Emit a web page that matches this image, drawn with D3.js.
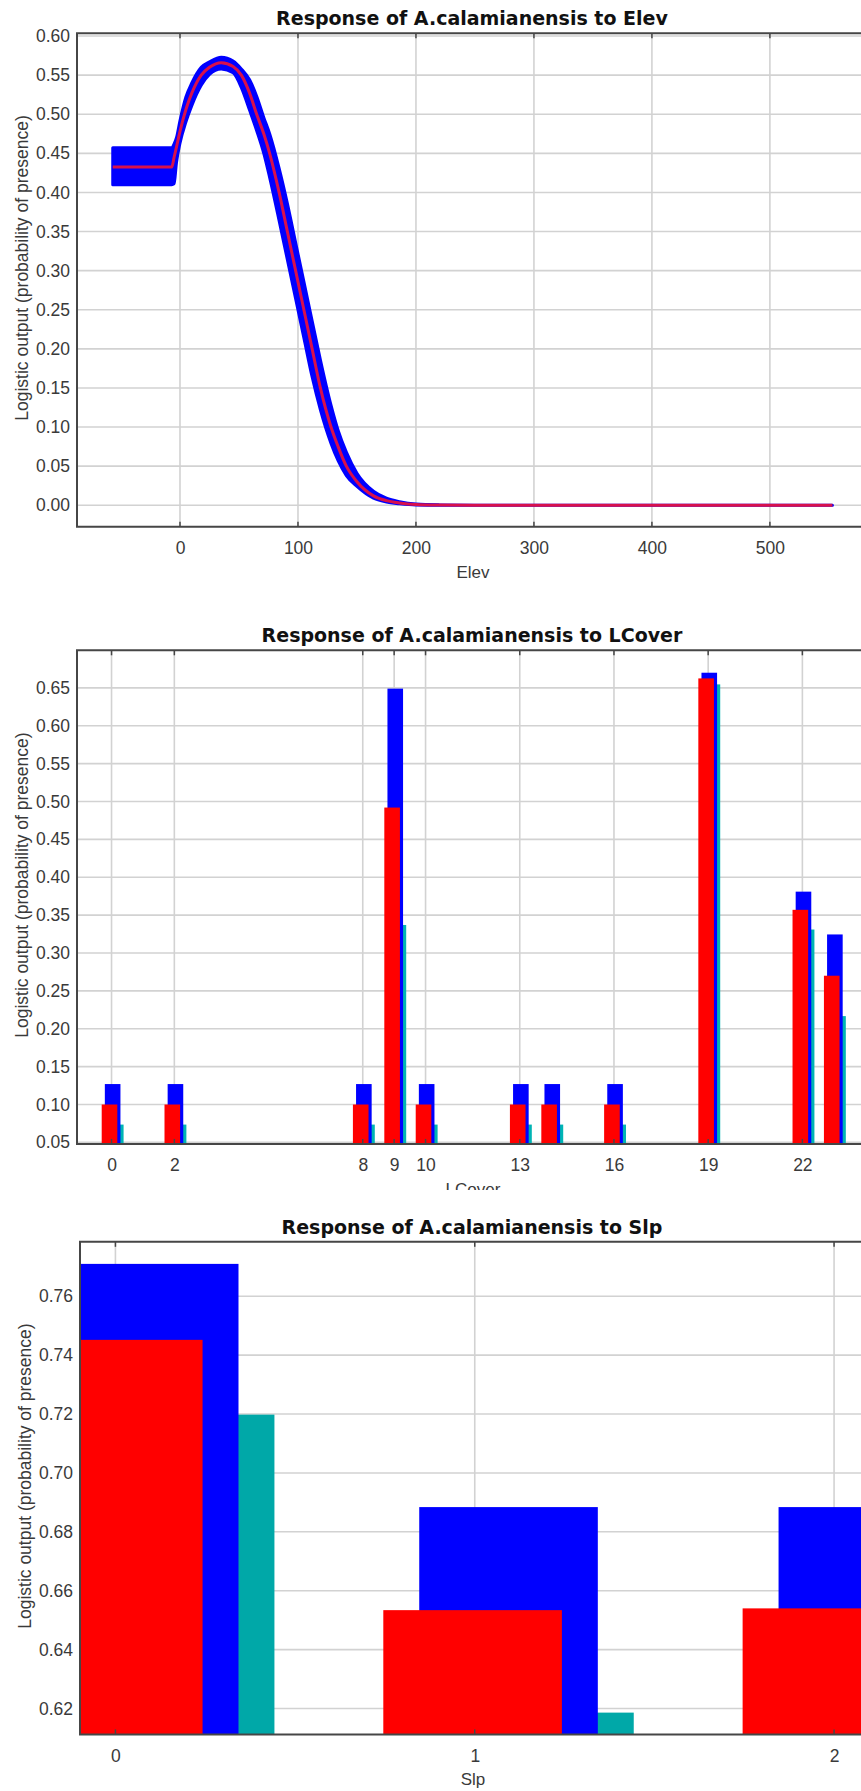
<!DOCTYPE html>
<html>
<head>
<meta charset="utf-8">
<script src="https://cdn.jsdelivr.net/npm/d3@7"></script>
<style>
  body { margin: 0; background: #fff; }
  svg { display: block; }
  text { font-family: "Liberation Sans", Arial, sans-serif; }
</style>
</head>
<body>
<div id="chart"></div>
<script>
// Elev response curve: mean (red) and mean +/- one sd (blue band)
var elevX     = [-57, -7, -5, -3, 0, 5, 10, 18, 25, 35, 45, 52, 59, 65, 71, 76, 84, 91, 98, 105, 112, 119, 128, 134, 141, 150, 164, 175, 186, 200, 220, 250, 300, 400, 553];
var elevMean  = [0.4325, 0.4325, 0.445, 0.458, 0.478, 0.506, 0.527, 0.550, 0.560, 0.566, 0.561, 0.550, 0.527, 0.500, 0.475, 0.450, 0.400, 0.350, 0.300, 0.250, 0.200, 0.150, 0.100, 0.075, 0.050, 0.030, 0.012, 0.006, 0.003, 0.001, 0.0003, 0, 0, 0, 0];
var elevUpper = [0.457, 0.457, 0.462, 0.470, 0.492, 0.522, 0.540, 0.560, 0.567, 0.573, 0.568, 0.558, 0.544, 0.523, 0.496, 0.475, 0.431, 0.386, 0.336, 0.286, 0.236, 0.186, 0.128, 0.096, 0.068, 0.041, 0.018, 0.009, 0.0045, 0.0015, 0.0005, 0.0001, 0, 0, 0];
var elevLower = [0.410, 0.410, 0.411, 0.438, 0.463, 0.490, 0.511, 0.537, 0.551, 0.558, 0.553, 0.534, 0.505, 0.479, 0.450, 0.419, 0.364, 0.314, 0.264, 0.214, 0.164, 0.122, 0.079, 0.057, 0.038, 0.024, 0.009, 0.004, 0.002, 0.0004, 0, 0, 0, 0, 0];
var elevTicksX = [0, 100, 200, 300, 400, 500];
var elevTicksY = [0.00, 0.05, 0.10, 0.15, 0.20, 0.25, 0.30, 0.35, 0.40, 0.45, 0.50, 0.55, 0.60];

// LCover categorical response
var lcoverCats  = [0, 2, 8, 9, 10, 13, 14, 16, 19, 22, 23];
var lcoverUpper = [0.127, 0.127, 0.127, 0.649, 0.127, 0.127, 0.127, 0.127, 0.670, 0.381, 0.3245];
var lcoverMean  = [0.100, 0.100, 0.100, 0.492, 0.100, 0.100, 0.100, 0.100, 0.6625, 0.357, 0.270];
var lcoverLower = [0.0735, 0.0735, 0.0735, 0.337, 0.0735, 0.0735, 0.0735, 0.0735, 0.6546, 0.331, 0.2167];
var lcoverTicksX = [0, 2, 8, 9, 10, 13, 16, 19, 22];
var lcoverTicksY = [0.05, 0.10, 0.15, 0.20, 0.25, 0.30, 0.35, 0.40, 0.45, 0.50, 0.55, 0.60, 0.65];

// Slp categorical response
var slpCats  = [0, 1, 2];
var slpUpper = [0.771, 0.6884, 0.6884];
var slpMean  = [0.7452, 0.6534, 0.6540];
var slpLower = [0.7198, 0.6186, 0.6196];
var slpTicksX = [0, 1, 2];
var slpTicksY = [0.62, 0.64, 0.66, 0.68, 0.70, 0.72, 0.74, 0.76];

var W = 861, H = 1791;
var frameColor = "#464646", gridColor = "#d2d2d2", textColor = "#3a3a3a";

var svg = d3.select("#chart").append("svg")
    .attr("width", W)
    .attr("height", H);

svg.append("rect").attr("width", W).attr("height", H).attr("fill", "#fff");

// draws grid, frame, axes and labels of one panel, returns the clipped plot group
function panel(p) {
    var g = svg.append("g");

    var x = d3.scaleLinear().domain(p.xDomain).range([p.left, p.right]);
    var y = d3.scaleLinear().domain(p.yDomain).range([p.bottom, p.top]);

    g.append("clipPath").attr("id", p.id + "-clip")
        .append("rect")
        .attr("x", p.left).attr("y", p.top)
        .attr("width", p.right - p.left).attr("height", p.bottom - p.top);

    // grid
    g.append("g").selectAll("line")
        .data(p.ticksY)
        .enter().append("line")
        .attr("x1", p.left).attr("x2", p.right)
        .attr("y1", function (d) { return y(d); })
        .attr("y2", function (d) { return y(d); })
        .attr("stroke", gridColor).attr("stroke-width", 1.6);

    g.append("g").selectAll("line")
        .data(p.ticksX)
        .enter().append("line")
        .attr("x1", function (d) { return x(d); })
        .attr("x2", function (d) { return x(d); })
        .attr("y1", p.top).attr("y2", p.bottom)
        .attr("stroke", gridColor).attr("stroke-width", 1.6);

    var plot = g.append("g").attr("clip-path", "url(#" + p.id + "-clip)");

    // frame + axes drawn after the marks
    p.finish = function () {
        var f = svg.append("g");
        f.append("path")
            .attr("d", "M" + (p.right) + "," + p.top + "H" + p.left + "V" + p.bottom + "H" + p.right)
            .attr("fill", "none").attr("stroke", frameColor).attr("stroke-width", 2);

        // inward ticks on bottom and top edges
        p.ticksX.forEach(function (d) {
            f.append("line").attr("x1", x(d)).attr("x2", x(d))
                .attr("y1", p.bottom).attr("y2", p.bottom - 5)
                .attr("stroke", frameColor).attr("stroke-width", 1.5);
            f.append("line").attr("x1", x(d)).attr("x2", x(d))
                .attr("y1", p.top).attr("y2", p.top + 5)
                .attr("stroke", frameColor).attr("stroke-width", 1.5);
        });

        var yAxis = f.append("g")
            .attr("transform", "translate(" + p.left + ",0)")
            .call(d3.axisLeft(y).tickValues(p.ticksY).tickFormat(d3.format(".2f")).tickSize(0).tickPadding(7));
        yAxis.select(".domain").remove();
        yAxis.selectAll("text").attr("fill", textColor).style("font-size", "17.5px");

        var xAxis = f.append("g")
            .attr("transform", "translate(0," + p.bottom + ")")
            .call(d3.axisBottom(x).tickValues(p.ticksX).tickFormat(d3.format("d")).tickSize(0).tickPadding(15));
        xAxis.select(".domain").remove();
        xAxis.selectAll("text").attr("fill", textColor).style("font-size", "17.5px");

        f.append("text")
            .attr("x", 472).attr("y", p.top - 8)
            .attr("text-anchor", "middle")
            .style("font-family", "'DejaVu Sans', Verdana, sans-serif")
            .style("font-weight", "bold")
            .style("font-size", "19px")
            .attr("fill", "#111")
            .text(p.title);

        f.append("text")
            .attr("x", 473).attr("y", p.bottom + 51)
            .attr("text-anchor", "middle")
            .style("font-size", "17px")
            .attr("fill", textColor)
            .text(p.xLabel);

        var cy = (p.top + p.bottom) / 2 - 12;
        f.append("text")
            .attr("transform", "translate(" + (p.left - 49) + "," + cy + ") rotate(-90)")
            .attr("text-anchor", "middle")
            .style("font-size", "17.5px")
            .attr("fill", textColor)
            .text("Logistic output (probability of presence)");
    };

    p.x = x;
    p.y = y;
    p.plot = plot;
    return p;
}

// bars for a categorical panel: lower (cyan) under upper (blue) under mean (red)
function bars(p, cats, series, shift) {
    var bw = 0.497;
    series.forEach(function (s, k) {
        p.plot.append("g").selectAll("rect")
            .data(cats)
            .enter().append("rect")
            .attr("x", function (d) { return p.x(d + shift + s.off - bw / 2); })
            .attr("width", function (d) { return p.x(d + bw) - p.x(d); })
            .attr("y", function (d, i) { return p.y(s.values[i]); })
            .attr("height", function (d, i) { return p.bottom - p.y(s.values[i]) + 2; })
            .attr("fill", s.color);
    });
}

// ---- Elev ----
var p1 = panel({
    id: "elev", title: "Response of A.calamianensis to Elev", xLabel: "Elev",
    left: 77, right: 869, top: 33.3, bottom: 526.7,
    xDomain: [-87.3, 584], yDomain: [-0.0274, 0.6035],
    ticksX: elevTicksX, ticksY: elevTicksY
});

var elevPts = elevX.map(function (v, i) { return i; });

p1.plot.append("path")
    .datum(elevPts)
    .attr("d", d3.area()
        .x(function (i) { return p1.x(elevX[i]); })
        .y0(function (i) { return p1.y(elevLower[i]); })
        .y1(function (i) { return p1.y(elevUpper[i]); })
        .curve(d3.curveMonotoneX))
    .attr("fill", "#0000ff")
    .attr("stroke", "#0000ff")
    .attr("stroke-width", 3)
    .attr("stroke-linejoin", "round");

p1.plot.append("path")
    .datum(elevPts)
    .attr("d", d3.line()
        .x(function (i) { return p1.x(elevX[i]); })
        .y(function (i) { return p1.y(elevMean[i]); })
        .curve(d3.curveMonotoneX))
    .attr("fill", "none")
    .attr("stroke", "#d8104c")
    .attr("stroke-width", 3);

p1.finish();

// ---- LCover ----
var p2 = panel({
    id: "lcover", title: "Response of A.calamianensis to LCover", xLabel: "LCover",
    left: 77, right: 874.6, top: 650.3, bottom: 1143.9,
    xDomain: [-1.1, 24.3], yDomain: [0.048, 0.6996],
    ticksX: lcoverTicksX, ticksY: lcoverTicksY
});

bars(p2, lcoverCats, [
    {values: lcoverLower, color: "#00b4b4", off: 0.2},
    {values: lcoverUpper, color: "#0000ff", off: 0.1},
    {values: lcoverMean, color: "#ff0000", off: 0}
], -0.065);

p2.finish();

// the Slp picture sits on top of the LCover axis title
svg.append("rect").attr("x", 0).attr("y", 1190).attr("width", W).attr("height", H - 1190).attr("fill", "#fff");

// ---- Slp ----
var p3 = panel({
    id: "slp", title: "Response of A.calamianensis to Slp", xLabel: "Slp",
    left: 80, right: 870, top: 1241.8, bottom: 1734.4,
    xDomain: [-0.0986, 2.1], yDomain: [0.6112, 0.7785],
    ticksX: slpTicksX, ticksY: slpTicksY
});

bars(p3, slpCats, [
    {values: slpLower, color: "#00a8a8", off: 0.2},
    {values: slpUpper, color: "#0000ff", off: 0.1},
    {values: slpMean, color: "#ff0000", off: 0}
], -0.006);

p3.finish();
</script>
</body>
</html>
